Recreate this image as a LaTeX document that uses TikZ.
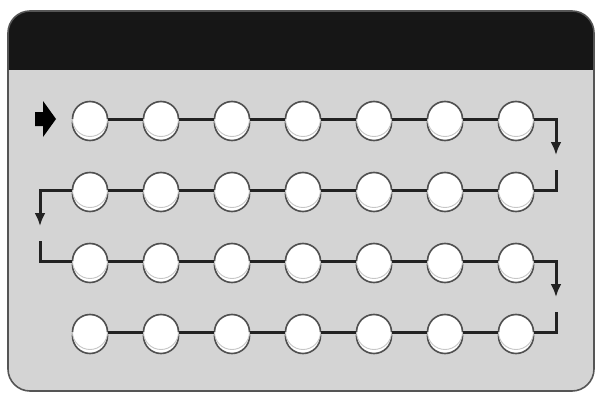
\documentclass[tikz,border=0pt]{standalone}
\definecolor{panelgray}{RGB}{212, 212, 212}
\definecolor{headblack}{RGB}{22, 22, 22}
\definecolor{framegray}{RGB}{85, 85, 85}
\definecolor{linkgray}{RGB}{34, 34, 34}
\definecolor{beadrim}{RGB}{80, 80, 80}
\usetikzlibrary{arrows.meta, calc}

\tikzset{
  bead/.style={circle, minimum size=35pt, inner sep=0pt, fill=white, draw=gray!45, line width=0.9pt,
    preaction={fill=white, draw=beadrim, line width=1.6pt, transform canvas={yshift=-4pt}}},
  beadtop/.style={draw=beadrim, line width=1.6pt},
  link/.style={draw=linkgray, line width=3pt},
  turn/.style={link, -{Latex[length=13pt, width=11pt]}}
}

\begin{document}
\begin{tikzpicture}[x=1pt, y=1pt]
  \useasboundingbox (0,0) rectangle (595,392);

  % panel with black title bar
  \begin{scope}
    \clip[rounded corners=22pt] (8,1) rectangle (594,381);
    \fill[panelgray] (8,1) rectangle (594,381);
    \fill[headblack] (8,322) rectangle (594,381);
  \end{scope}
  \draw[framegray, line width=1.6pt, rounded corners=22pt] (8,1) rectangle (594,381);

  % entry arrow
  \fill[black] (35,266) -- (43,266) -- (43,255) -- (56,273) -- (43,291) -- (43,280) -- (35,280) -- cycle;

  % beads
  \foreach \r/\y in {1/273, 2/202, 3/131, 4/60}
    \foreach \c in {1,...,7} {
      \node[bead] (b\r\c) at ({19+71*\c},\y) {};
      \draw[beadtop] ($(b\r\c.center)+(17.5pt,0)$) arc[start angle=0, end angle=180, radius=17.5pt];
    }

  % links along each row
  \foreach \r in {1,...,4}
    \foreach \c/\d in {1/2, 2/3, 3/4, 4/5, 5/6, 6/7}
      \draw[link] (b\r\c.east) -- (b\r\d.west);

  % turns between rows
  \coordinate (t1a) at (556,237);
  \coordinate (t1b) at (556,222);
  \coordinate (t2a) at (40,166);
  \coordinate (t2b) at (40,151);
  \coordinate (t3a) at (556,95);
  \coordinate (t3b) at (556,80);
  \draw[turn] (b17.east) -| (t1a);
  \draw[link] (b27.east) -| (t1b);
  \draw[turn] (b21.west) -| (t2a);
  \draw[link] (b31.west) -| (t2b);
  \draw[turn] (b37.east) -| (t3a);
  \draw[link] (b47.east) -| (t3b);
\end{tikzpicture}
\end{document}
